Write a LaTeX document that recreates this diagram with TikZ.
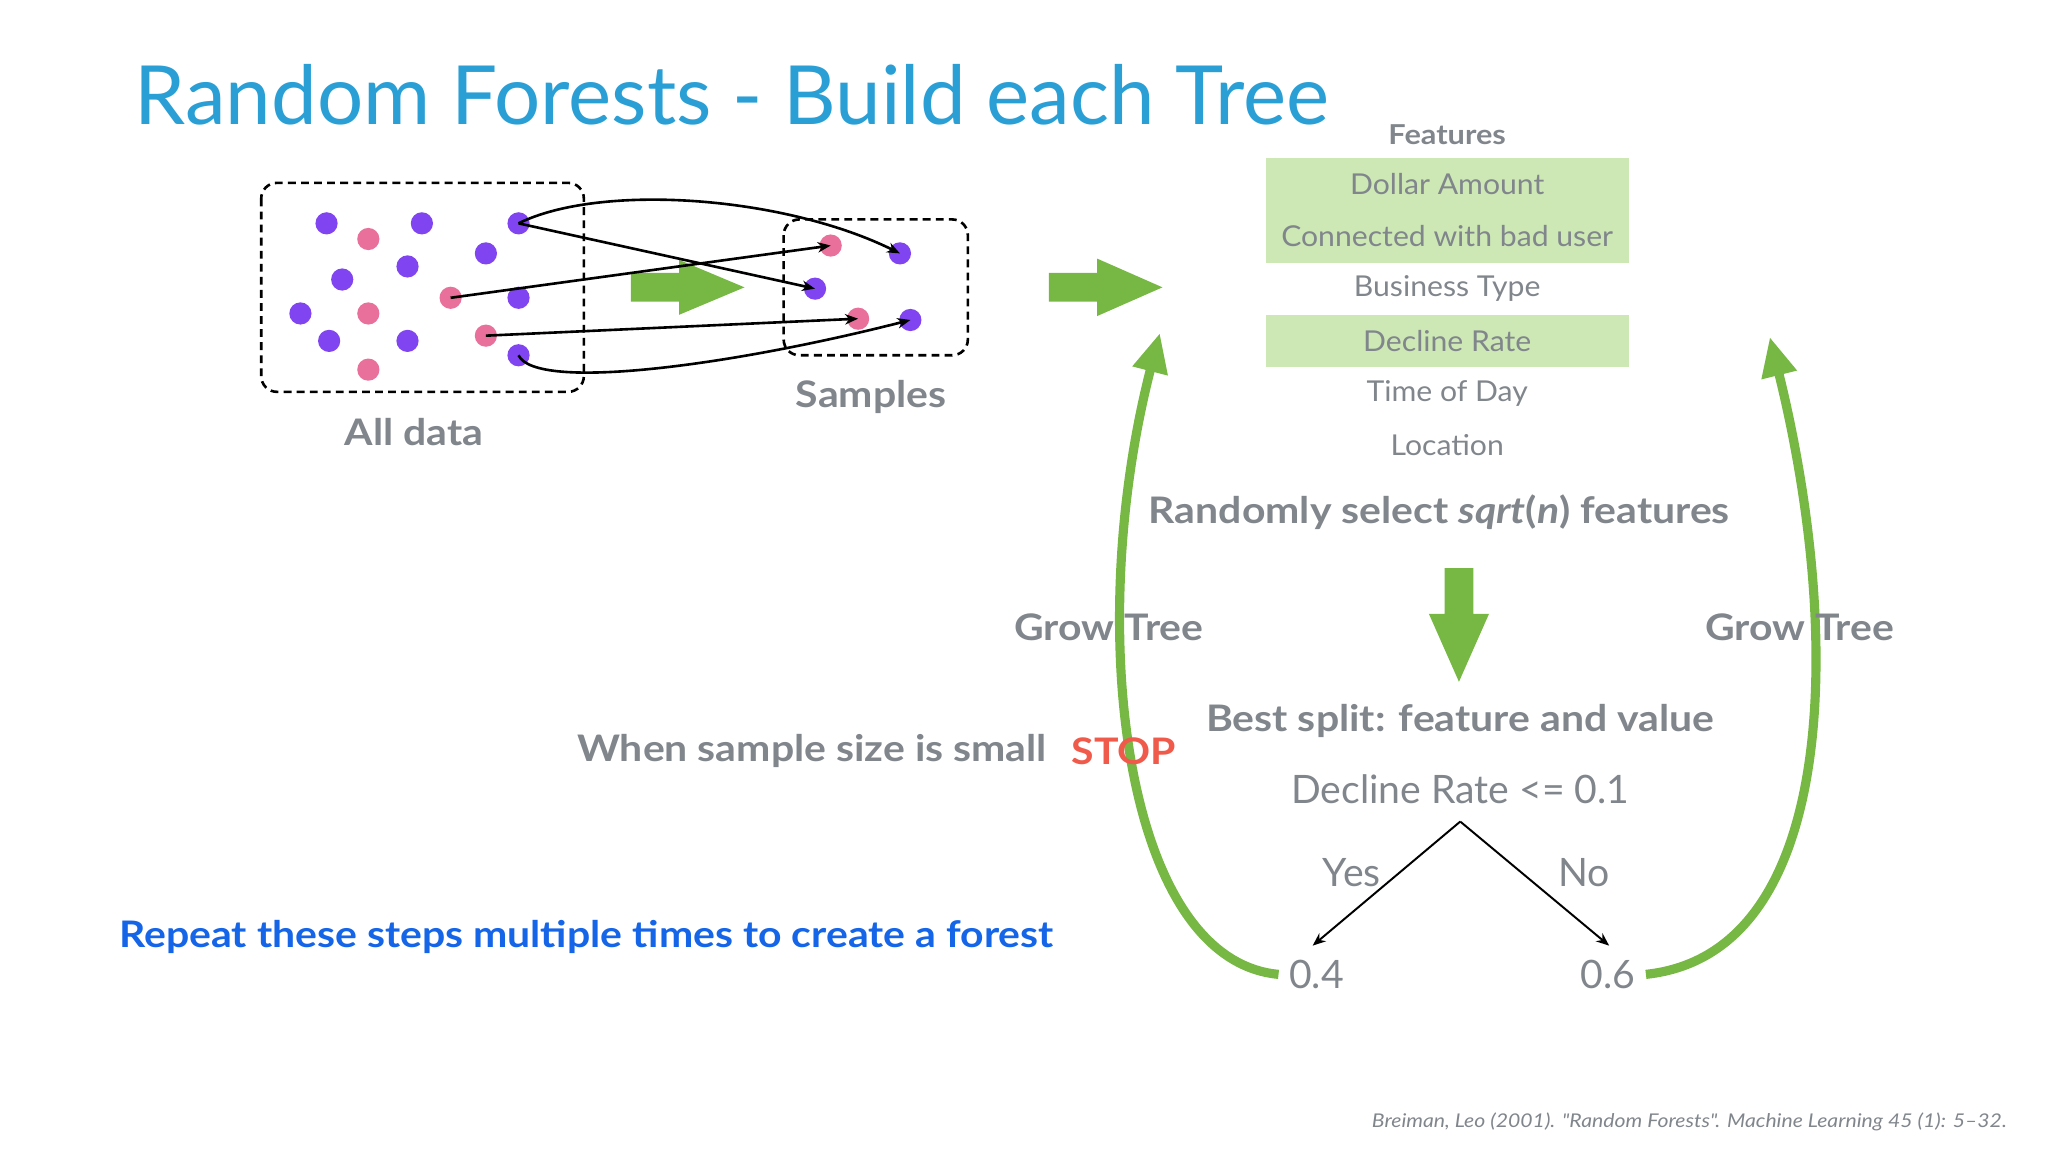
\documentclass[tikz,border=0pt]{standalone}
\usepackage{fontspec}
\setmainfont{Lato}
\newfontfamily\wideb{Lato}[FakeStretch=1.12]
\newfontfamily\midf{Lato}[FakeStretch=1.05]
\usetikzlibrary{arrows.meta}
\definecolor{ttl}{HTML}{2A9FD6}
\definecolor{pur}{HTML}{8045F0}
\definecolor{pnk}{HTML}{E8709A}
\definecolor{grn}{HTML}{76B843}
\definecolor{lgrn}{HTML}{CDE8B5}
\definecolor{gry}{HTML}{80868C}
\definecolor{stp}{HTML}{F05A4A}
\definecolor{blu}{HTML}{1565E8}
\tikzset{
 pd/.style={circle,fill=pur,minimum width=15pt,minimum height=17pt,inner sep=0pt},
 kd/.style={circle,fill=pnk,minimum width=15pt,minimum height=17pt,inner sep=0pt},
 lbl/.style={text=gry,font=\wideb\fontsize{28}{32}\selectfont\bfseries},
 feat/.style={text=gry,font=\midf\fontsize{22}{26}\selectfont,minimum width=278pt,minimum height=40pt,inner sep=0pt},
 num/.style={text=gry,font=\fontsize{30}{32}\selectfont},
 dashbox/.style={draw,dashed,line width=2pt,rounded corners=12pt,dash pattern=on 6pt off 4pt},
 con/.style={-{Stealth[length=10pt,width=8pt]},line width=2pt},
 growarrow/.style={grn,line width=7pt,-{Triangle[length=30pt,width=26pt]}},
 block/.style={fill=grn},
}
\begin{document}
\begin{tikzpicture}[x=1pt,y=-1pt]
\useasboundingbox (0,0) rectangle (1568,882);
\node[anchor=base west,text=ttl,font=\fontsize{62.5}{66}\selectfont,inner sep=0] (title) at (103,95) {Random Forests - Build each Tree};
% boxes
\draw[dashbox] (200,140) rectangle (447,300);
\draw[dashbox] (600,168) rectangle (741,272);
\foreach \n/\x/\y in {a/250/171,b/323/171,c/397/171,d/372/194,e/312/204,f/262/214,g/397/228,h/230/240,i/252/261,j/312/261,k/397/272}
  \node[pd] (\n) at (\x,\y) {};
\foreach \n/\x/\y in {p/282/183,q/345/228,r/282/240,s/372/257,t/282/283}
  \node[kd] (\n) at (\x,\y) {};
\node[kd] (s1) at (636,188) {};
\node[kd] (s2) at (657,244) {};
\node[pd] (s3) at (689,194) {};
\node[pd] (s4) at (624,221) {};
\node[pd] (s5) at (697,245) {};
% green block arrows
\fill[block] (483,209) -- (520,209) -- (520,199) -- (570,220) -- (520,241) -- (520,231) -- (483,231) -- cycle;
\fill[block] (803,209) -- (840,209) -- (840,198) -- (890,220) -- (840,242) -- (840,231) -- (803,231) -- cycle;
\draw[con] (c.center) .. controls (460,140) and (600,150) .. (s3.center);
\draw[con] (c.center) -- (s4.center);
\draw[con] (q.center) -- (s1.center);
\draw[con] (s.center) -- (s2.center);
\draw[con] (k.center) .. controls (410,300) and (560,280) .. (s5.center);
\node[lbl] (alldata) at (317,331) {All data};
\node[lbl] (samples) at (667,304) {Samples};
% features
\node[text=gry,font=\wideb\fontsize{21}{24}\selectfont\bfseries] (fh) at (1108,103) {Features};
\node[feat,fill=lgrn] (f1) at (1108,141) {Dollar Amount};
\node[feat,fill=lgrn] (f2) at (1108,181) {Connected with bad user};
\node[feat] (f3) at (1108,221) {Business Type};
\node[feat,fill=lgrn] (f4) at (1108,261) {Decline Rate};
\node[feat] (f5) at (1108,301) {Time of Day};
\node[feat] (f6) at (1108,341) {Location};
\node[lbl] (rs) at (1102,392) {Randomly select \textit{sqrt}(\textit{n}) features};
\fill[block] (1106,435) -- (1128,435) -- (1128,470) -- (1140,470) -- (1117,522) -- (1094,470) -- (1106,470) -- cycle;
\node[lbl] (bs) at (1118,552) {Best split: feature and value};
\node[num] (dr) at (1118,604) {Decline Rate <= 0.1};
\coordinate (apex) at (1118,629);
\node[num,inner xsep=8pt] (v1) at (1008,746) {0.4};
\node[num,inner xsep=8pt] (v2) at (1231,746) {0.6};
\coordinate (e1) at (1005,724);
\coordinate (e2) at (1232,724);
\draw[-{Stealth[length=10pt,width=8pt]},line width=1.5pt] (apex) -- (e1);
\draw[-{Stealth[length=10pt,width=8pt]},line width=1.5pt] (apex) -- (e2);
\node[num] (yes) at (1035,668) {Yes};
\node[num] (no) at (1213,668) {No};
% grow arrows
\coordinate (g1) at (888,255);
\coordinate (g2) at (1355,258);
\draw[growarrow] (v1.west) .. controls (860,735) and (830,480) .. (g1);
\draw[growarrow] (v2.east) .. controls (1410,730) and (1410,480) .. (g2);
\node[lbl] (gt1) at (849,480) {Grow Tree};
\node[lbl] (gt2) at (1378,480) {Grow Tree};
\node[lbl,anchor=east] (ws) at (805,575) {When sample size is small};
\node[text=stp,font=\wideb\fontsize{28}{32}\selectfont\bfseries,anchor=west] (stop) at (817,575) {STOP};
\node[lbl,text=blu] (rep) at (449,717) {Repeat these steps multiple times to create a forest};
\node[anchor=east,text=gry,font=\wideb\fontsize{14.5}{16}\selectfont\itshape] (cite) at (1540,859) {Breiman, Leo (2001). "Random Forests". Machine Learning 45 (1): 5–32.};
\end{tikzpicture}
\end{document}
